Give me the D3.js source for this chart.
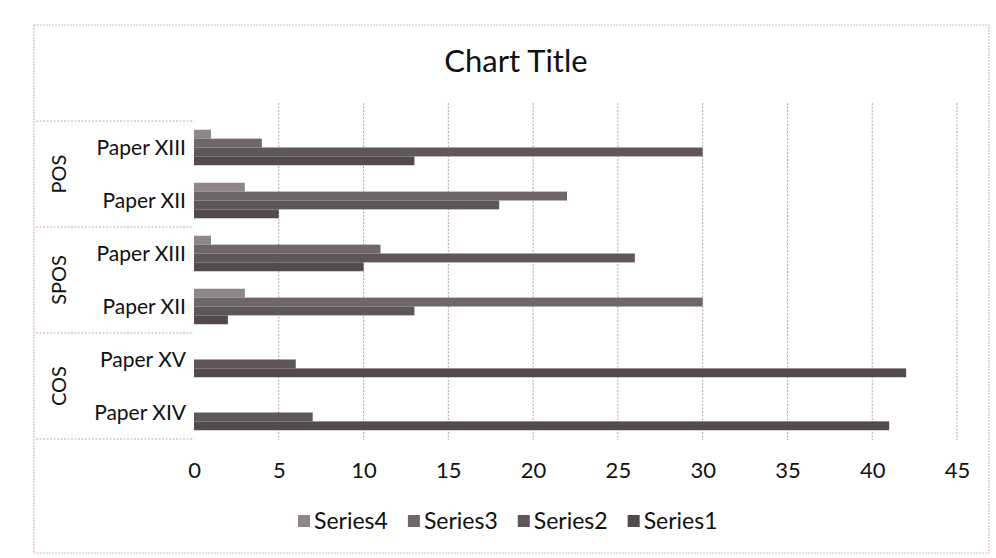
<!DOCTYPE html>
<html><head><meta charset="utf-8">
<script src="https://cdn.jsdelivr.net/npm/d3@7"></script>
<style>body{margin:0;background:#fff}svg{display:block}text{font-family:Lato,"Open Sans",sans-serif;fill:#111}</style>
</head><body><svg id="c" width="996" height="558"></svg>
<script>
const groups = ["POS","SPOS","COS"];
const categories = [
  ["POS","Paper XIII"],["POS","Paper XII"],
  ["SPOS","Paper XIII"],["SPOS","Paper XII"],
  ["COS","Paper XV"],["COS","Paper XIV"]
];
const seriesNames = ["Series4","Series3","Series2","Series1"];
const series4 = [1, 3, 1, 3, 0, 0];
const series3 = [4, 22, 11, 30, 0, 0];
const series2 = [30, 18, 26, 13, 6, 7];
const series1 = [13, 5, 10, 2, 42, 41];
const xTicks = [0,5,10,15,20,25,30,35,40,45];
const title = "Chart Title";

const seriesVals = [series4, series3, series2, series1];
const colors = ["#8f868a","#6f666a","#5f565a","#524a4e"];

const svg = d3.select("#c");
svg.append("rect").attr("x",34).attr("y",25).attr("width",955).attr("height",528)
  .attr("fill","none").attr("stroke","#d9b8c0").attr("stroke-width",1.2).attr("stroke-dasharray","2,1");

svg.append("text").attr("x",516).attr("y",72).attr("text-anchor","middle")
  .attr("font-size",31).text(title);

const x = d3.scaleLinear().domain([0,45]).range([194,957]);
const y = d3.scaleBand().domain(d3.range(categories.length)).range([121,439]).paddingInner(0.33).paddingOuter(0.165);
const yOuter = d3.scaleBand().domain(d3.range(categories.length)).range([121,439]);
const ys = d3.scaleBand().domain(seriesNames).range([0,y.bandwidth()]);

svg.append("g").selectAll("line").data(xTicks.slice(1)).join("line")
  .attr("x1",d=>x(d)).attr("x2",d=>x(d)).attr("y1",103).attr("y2",440)
  .attr("stroke","#b9a2a9").attr("stroke-width",1).attr("stroke-dasharray","2,1.5");

seriesNames.forEach((s,si)=>{
  svg.append("g").selectAll("rect").data(seriesVals[si]).join("rect")
    .attr("x",x(0)).attr("y",(d,i)=>y(i)+ys(s))
    .attr("width",d=>x(d)-x(0)).attr("height",ys.bandwidth())
    .attr("fill",colors[si]);
});

const xAxis = d3.axisBottom(x).tickValues(xTicks).tickSize(0).tickPadding(22);
const gx = svg.append("g").attr("transform","translate(0,440)").call(xAxis);
gx.select(".domain").remove();
gx.selectAll("text").attr("font-size",22).style("font-family","Lato,'Open Sans',sans-serif").attr("fill","#111");

svg.append("g").selectAll("text").data(categories).join("text")
  .attr("x",186).attr("y",(d,i)=>yOuter(i)+yOuter.bandwidth()/2+7)
  .attr("text-anchor","end").attr("font-size",21).text(d=>d[1]);

groups.forEach((g,gi)=>{
  const idx = categories.map((c,i)=>c[0]===g?i:-1).filter(i=>i>=0);
  const top = yOuter(idx[0]), bot = yOuter(idx[idx.length-1])+yOuter.bandwidth();
  svg.append("line").attr("x1",36).attr("x2",194).attr("y1",top).attr("y2",top)
    .attr("stroke","#bfa9b0").attr("stroke-dasharray","2,1.5");
  if(gi===groups.length-1) svg.append("line").attr("x1",36).attr("x2",194).attr("y1",bot).attr("y2",bot)
    .attr("stroke","#bfa9b0").attr("stroke-dasharray","2,1.5");
  svg.append("text").attr("transform",`translate(66,${(top+bot)/2}) rotate(-90)`)
    .attr("text-anchor","middle").attr("font-size",20).text(g);
});

const legend = svg.append("g").attr("transform","translate(298,529)");
let lx = 0;
seriesNames.forEach((s,si)=>{
  const gg = legend.append("g").attr("transform",`translate(${lx},0)`);
  gg.append("rect").attr("x",0).attr("y",-14).attr("width",12).attr("height",12).attr("fill",colors[si]);
  const t = gg.append("text").attr("x",16).attr("y",0).attr("font-size",23).text(s);
  lx += 16 + t.node().getComputedTextLength() + 20;
});
</script></body></html>
